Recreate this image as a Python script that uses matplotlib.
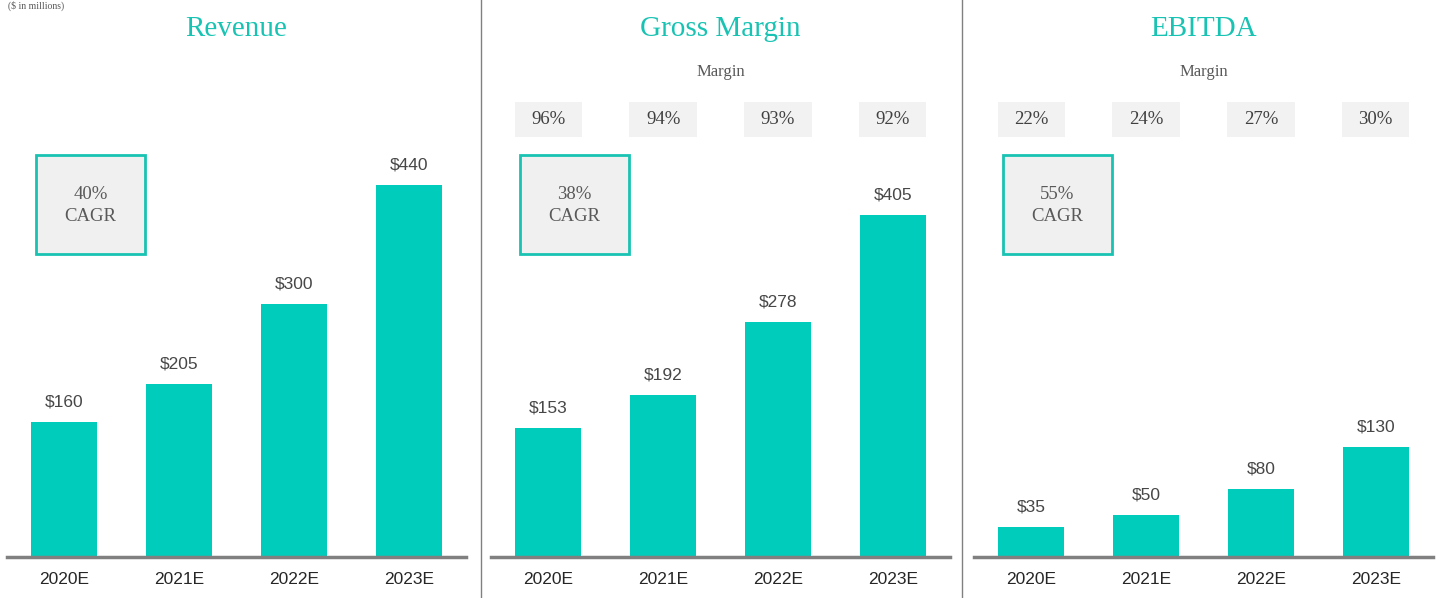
import matplotlib
matplotlib.use("Agg")
import matplotlib.pyplot as plt
from matplotlib.patches import Rectangle
from matplotlib.lines import Line2D
import matplotlib.transforms as mtransforms

years = ["2020E", "2021E", "2022E", "2023E"]
titles = ["Revenue", "Gross Margin", "EBITDA"]
revenue = [160, 205, 300, 440]
gross_margin = [153, 192, 278, 405]
ebitda = [35, 50, 80, 130]
series = [revenue, gross_margin, ebitda]
margins = [None, ["96%", "94%", "93%", "92%"], ["22%", "24%", "27%", "30%"]]
cagr = ["40%", "38%", "55%"]

TEAL = "#00CCBC"
TITLE_TEAL = "#19C3B3"
GRAY_TXT = "#595959"
W, H = 1442, 598
fig = plt.figure(figsize=(W / 100, H / 100), dpi=100)

serif = ["Liberation Serif", "DejaVu Serif"]
sans = ["Liberation Sans", "DejaVu Sans"]

base_px = 557  # baseline from top
ymax = base_px / 0.845
left_px = [7, 491, 974]
ax_w = 459

for i in range(3):
    ax = fig.add_axes([left_px[i] / W, (H - base_px) / H, ax_w / W, base_px / H])
    ax.set_xlim(-0.5, 3.5)
    ax.set_ylim(0, ymax)
    x = range(len(years))
    ax.bar(x, series[i], width=0.575, color=TEAL, zorder=2)
    for xi, v in zip(x, series[i]):
        ax.annotate(f"${v}", (xi, v), xytext=(0, 9), textcoords="offset points",
                    ha="center", va="bottom", fontsize=12.5, color="#474747",
                    family=sans)
    for s in ["top", "right", "left"]:
        ax.spines[s].set_visible(False)
    ax.spines["bottom"].set_color("#808080")
    ax.spines["bottom"].set_linewidth(2.5)
    ax.set_yticks([])
    ax.set_xticks(list(x))
    ax.set_xticklabels(years, family=sans, fontsize=12.5, color="#262626")
    ax.tick_params(axis="x", length=0, pad=11)

    trans = mtransforms.blended_transform_factory(ax.transData, ax.transAxes)
    ax.text(0.5, 0.948, titles[i], transform=ax.transAxes, ha="center", va="center",
            fontsize=21, color=TITLE_TEAL, family=serif)
    if margins[i] is not None:
        ax.text(0.5, 0.870, "Margin", transform=ax.transAxes, ha="center", va="center",
                fontsize=12, color=GRAY_TXT, family=serif)
        for xi, m in zip(x, margins[i]):
            ax.add_patch(Rectangle((xi - 0.295, 0.754), 0.59, 0.063, transform=trans,
                                   facecolor="#F2F2F2", edgecolor="none", zorder=1))
            ax.text(xi, 0.7855, m, transform=trans, ha="center", va="center",
                    fontsize=13.5, color="#404040", family=serif)
    ax.add_patch(Rectangle((-0.247, 0.544), 0.95, 0.178, transform=trans,
                           facecolor="#F0F0F0", edgecolor=TITLE_TEAL, linewidth=2, zorder=3))
    ax.text(0.228, 0.631, f"{cagr[i]}\nCAGR", transform=trans, ha="center", va="center",
            fontsize=13.5, color=GRAY_TXT, family=serif, linespacing=1.45, zorder=4)

for xs in [481, 962]:
    fig.add_artist(Line2D([xs / W, xs / W], [0, 1], color="#808080", linewidth=1))

fig.text(8 / W, 0.999, "($ in millions)", ha="left", va="top", fontsize=7,
         color=GRAY_TXT, family=serif)

fig.savefig("out.png", dpi=100, facecolor="white")
